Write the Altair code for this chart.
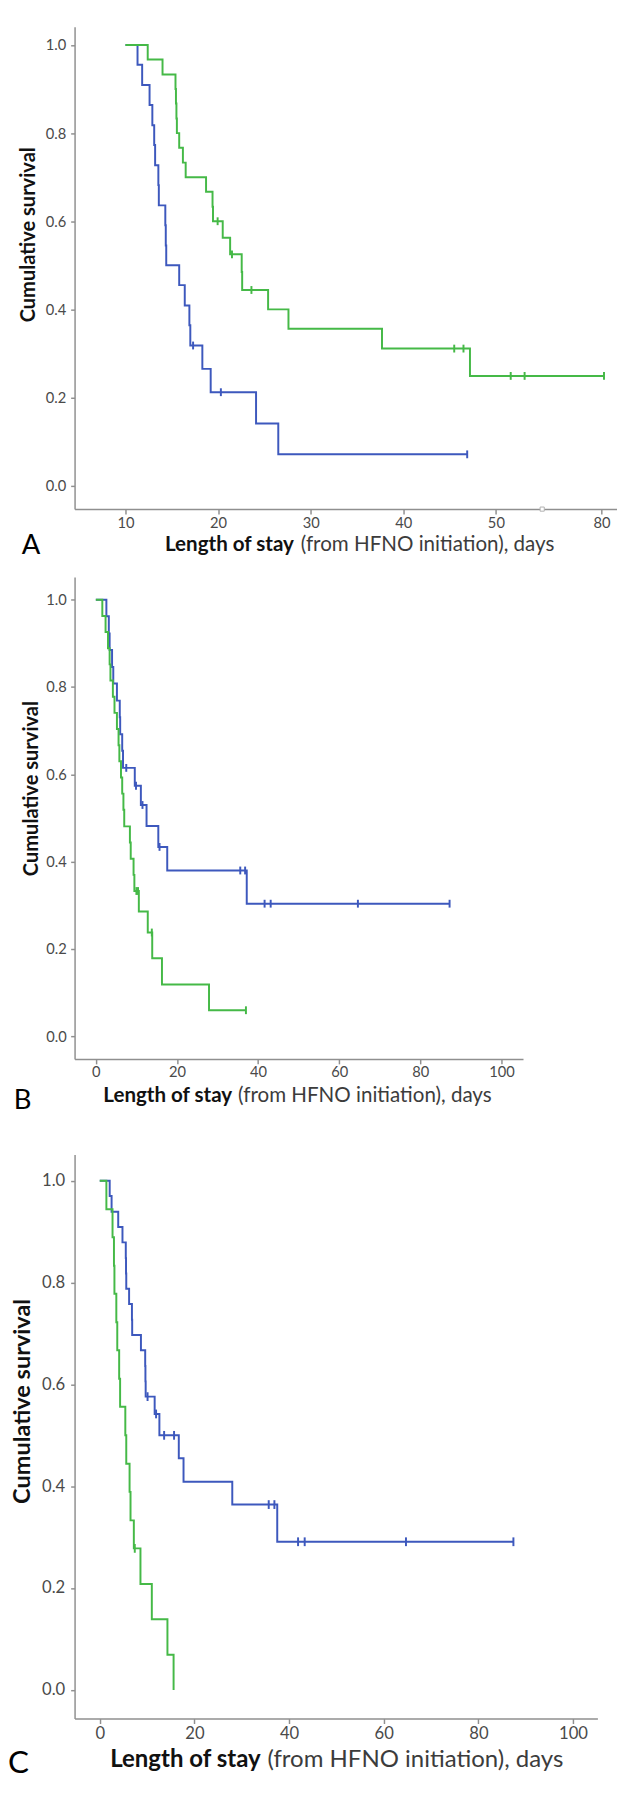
import altair as alt
import pandas as pd

FONT = "Lato"
BLUE = "#3d58bd"
GREEN = "#45b947"
AXIS_GREY = "#8f8f8f"
LABEL_GREY = "#4a4a4a"

# ---------------- Panel A ----------------
a_x_ticks = [10, 20, 30, 40, 50, 80]
a_blue_t = [10.0, 11.3, 11.8, 12.6, 12.9, 13.1, 13.2, 13.55, 13.6, 14.3, 14.35, 14.4,
            15.8, 16.4, 16.9, 17.0, 18.3, 19.2, 24.1, 26.5, 46.9]
a_blue_s = [1.0, 0.955, 0.909, 0.864, 0.818, 0.773, 0.727, 0.682, 0.636, 0.591, 0.545, 0.500,
            0.455, 0.409, 0.364, 0.318, 0.265, 0.212, 0.141, 0.071, 0.071]
a_blue_cens_t = [17.3, 20.3, 46.9]
a_blue_cens_s = [0.318, 0.212, 0.071]
a_green_t = [10.0, 12.4, 14.0, 15.4, 15.45, 15.5, 15.55, 15.8, 16.2, 16.5, 18.7, 19.4, 19.45,
             20.5, 21.3, 22.55, 22.6, 25.4, 27.6, 37.7, 47.2, 81.0]
a_green_s = [1.0, 0.967, 0.933, 0.900, 0.867, 0.833, 0.800, 0.767, 0.733, 0.700, 0.667, 0.633, 0.600,
             0.5625, 0.525, 0.485, 0.444, 0.400, 0.356, 0.311, 0.249, 0.249]
a_green_cens_t = [19.95, 21.5, 23.6, 45.5, 46.5, 51.6, 53.1, 81.0]
a_green_cens_s = [0.600, 0.525, 0.444, 0.311, 0.311, 0.249, 0.249, 0.249]
a_axis_break = [55]

# ---------------- Panel B ----------------
bc_x_ticks = [0, 20, 40, 60, 80, 100]
b_blue_t = [0, 2.6, 3.2, 3.4, 4.0, 4.3, 5.2, 5.9, 6.0, 6.5, 6.7, 9.6, 11.1, 12.5, 15.4, 17.6, 37.2, 87.2]
b_blue_s = [1.0, 0.962, 0.923, 0.885, 0.846, 0.808, 0.769, 0.731, 0.692, 0.654, 0.615, 0.574,
            0.530, 0.482, 0.434, 0.380, 0.304, 0.304]
b_blue_cens_t = [7.5, 9.9, 11.5, 15.7, 35.6, 36.8, 41.6, 43.1, 64.6, 87.2]
b_blue_cens_s = [0.615, 0.574, 0.530, 0.434, 0.380, 0.380, 0.304, 0.304, 0.304, 0.304]
b_green_t = [0, 1.6, 2.4, 3.0, 3.4, 3.6, 4.2, 4.6, 5.2, 5.6, 5.8, 6.2, 6.5, 6.8, 7.0, 8.4, 8.6,
             9.3, 9.5, 10.6, 12.8, 13.9, 16.3, 27.9, 37.0]
b_green_s = [1.0, 0.963, 0.926, 0.889, 0.852, 0.815, 0.778, 0.741, 0.704, 0.667, 0.630, 0.593,
             0.556, 0.519, 0.481, 0.444, 0.407, 0.370, 0.333, 0.286, 0.238, 0.179, 0.119, 0.060, 0.060]
b_green_cens_t = [10.0, 10.4, 13.8, 37.0]
b_green_cens_s = [0.333, 0.333, 0.238, 0.060]

# ---------------- Panel C ----------------
c_blue_t = [0, 2.1, 2.5, 3.9, 4.8, 5.5, 5.55, 5.6, 6.2, 6.8, 6.85, 8.7, 9.6, 9.65, 9.7, 11.6,
            12.6, 16.7, 17.7, 28.0, 37.5, 87.4]
c_blue_s = [1.0, 0.970, 0.939, 0.909, 0.879, 0.848, 0.818, 0.788, 0.758, 0.727, 0.697, 0.667,
            0.636, 0.606, 0.576, 0.542, 0.500, 0.455, 0.409, 0.364, 0.291, 0.291]
c_blue_cens_t = [10.1, 11.9, 13.6, 15.7, 35.7, 36.9, 41.9, 43.3, 64.7, 87.4]
c_blue_cens_s = [0.576, 0.542, 0.500, 0.500, 0.364, 0.364, 0.291, 0.291, 0.291, 0.291]
c_green_t = [0, 1.4, 2.7, 3.0, 3.1, 3.5, 3.7, 4.1, 4.3, 5.4, 5.6, 6.3, 6.5, 7.2, 8.6, 11.0, 14.3, 15.6]
c_green_s = [1.0, 0.944, 0.889, 0.833, 0.778, 0.722, 0.667, 0.611, 0.556, 0.500, 0.444, 0.389,
             0.333, 0.278, 0.208, 0.139, 0.069, 0.0]
c_green_cens_t = [7.4]
c_green_cens_s = [0.278]

y_ticks = [0.0, 0.2, 0.4, 0.6, 0.8, 1.0]
Y_TITLE = "Cumulative survival"
X_TITLE_BOLD = "Length of stay"
X_TITLE_REST = "(from HFNO initiation), days"

ONE = pd.DataFrame({"k": [0]})


def df(t, s):
    return pd.DataFrame({"t": t, "s": s})


def panel(p):
    xs_kw = dict(domain=p["xdom"], nice=False, zero=False)
    if "xrange" in p:
        xs_kw["range"] = p["xrange"]
    xs = alt.Scale(**xs_kw)
    ys = alt.Scale(domain=p["ydom"], nice=False, zero=False)
    xa = alt.Axis(values=p["xticks"], format="d", title=None, grid=False,
                  labelFontSize=p["tick_fs"], tickSize=5, labelPadding=p["xlabpad"],
                  labelFlush=False, labelOverlap=False)
    ya = alt.Axis(values=y_ticks, format=".1f", title=Y_TITLE, grid=False,
                  labelFontSize=p["tick_fs"], tickSize=4, labelPadding=p["ylabpad"],
                  titleFontSize=p["ytitle_fs"], titleFontWeight="bold", titleColor="#111111",
                  titleX=p["titleX"], titleY=p["titleY"], titleBaseline="alphabetic",
                  titleAngle=270, titleAlign="center")
    X = alt.X("t:Q", scale=xs, axis=xa)
    Y = alt.Y("s:Q", scale=ys, axis=ya)

    layers = []
    # invisible layout guide (fixes the panel's outer bounds)
    layers.append(alt.Chart(ONE).mark_rule(strokeOpacity=0, strokeWidth=1, color="white").encode(
        x=alt.value(p["guide_x"]), y=alt.value(0), y2=alt.value(p["guide_bottom"])))
    layers.append(alt.Chart(df(p["bt"], p["bs"])).mark_line(
        interpolate="step-after", color=BLUE, strokeWidth=2).encode(x=X, y=Y))
    layers.append(alt.Chart(df(p["gt"], p["gs"])).mark_line(
        interpolate="step-after", color=GREEN, strokeWidth=2).encode(x=X, y=Y))
    cens = dict(shape="M0,-1L0,1", filled=False, strokeWidth=2, size=p["cens_size"], opacity=1)
    layers.append(alt.Chart(df(p["bct"], p["bcs"])).mark_point(color=BLUE, **cens).encode(x=X, y=Y))
    layers.append(alt.Chart(df(p["gct"], p["gcs"])).mark_point(color=GREEN, **cens).encode(x=X, y=Y))
    if "breaks" in p:
        layers.append(alt.Chart(pd.DataFrame({"t": p["breaks"]})).mark_point(
            shape="square", filled=True, fill="white", stroke="#b0b0b0", strokeWidth=1,
            size=18, opacity=1).encode(x=X, y=alt.value(p["h"])))
    # x axis title: bold part + regular part
    layers.append(alt.Chart(ONE).mark_text(
        text=X_TITLE_BOLD, align="right", baseline="alphabetic", font=FONT,
        fontSize=p["xtitle_fs"], fontWeight="bold", color="#111111").encode(
        x=alt.value(p["split_r"]), y=alt.value(p["xtitle_base"])))
    layers.append(alt.Chart(ONE).mark_text(
        text=X_TITLE_REST, align="left", baseline="alphabetic", font=FONT,
        fontSize=p["xtitle_fs"], color="#3c3c3c").encode(
        x=alt.value(p["split_l"]), y=alt.value(p["xtitle_base"])))
    # panel letter
    layers.append(alt.Chart(ONE).mark_text(
        text=p["letter"], align="left", baseline="alphabetic", font=FONT,
        fontSize=p["letter_fs"], color="#000000").encode(
        x=alt.value(p["letter_x"]), y=alt.value(p["letter_base"])))
    return alt.layer(*layers).properties(width=p["w"], height=p["h"])


A = panel(dict(
    xdom=[4.502, 55, 86.47], xrange=[0, 477.6, 554], xticks=a_x_ticks, ydom=[-0.0533, 1.0415],
    w=554, h=492.7, tick_fs=15, xlabpad=2, ylabpad=5, ytitle_fs=20.5, titleX=-41, titleY=212,
    bt=a_blue_t, bs=a_blue_s, gt=a_green_t, gs=a_green_s,
    bct=a_blue_cens_t, bcs=a_blue_cens_s, gct=a_green_cens_t, gcs=a_green_cens_s,
    breaks=a_axis_break, cens_size=64,
    guide_x=-61, guide_bottom=562,
    xtitle_fs=21, split_r=224, split_l=231, xtitle_base=535.3,
    letter="A", letter_fs=28, letter_x=-54, letter_base=538.7,
))

B = panel(dict(
    xdom=[-5.24, 105.3], xticks=bc_x_ticks, ydom=[-0.0516, 1.0522],
    w=458, h=492.3, tick_fs=15, xlabpad=1, ylabpad=4.5, ytitle_fs=20.5, titleX=-37.5, titleY=215.6,
    bt=b_blue_t, bs=b_blue_s, gt=b_green_t, gs=b_green_s,
    bct=b_blue_cens_t, bcs=b_blue_cens_s, gct=b_green_cens_t, gcs=b_green_cens_s,
    cens_size=64,
    guide_x=-67, guide_bottom=590,
    xtitle_fs=21, split_r=161, split_l=167, xtitle_base=536.7,
    letter="B", letter_fs=28, letter_x=-62, letter_base=543,
))

C = panel(dict(
    xdom=[-5.32, 105.15], xticks=bc_x_ticks, ydom=[-0.0563, 1.0513],
    w=534, h=576, tick_fs=17, xlabpad=2, ylabpad=6, ytitle_fs=24, titleX=-46, titleY=251.5,
    bt=c_blue_t, bs=c_blue_s, gt=c_green_t, gs=c_green_s,
    bct=c_blue_cens_t, bcs=c_blue_cens_s, gct=c_green_cens_t, gcs=c_green_cens_s,
    cens_size=80,
    guide_x=-68, guide_bottom=10,
    xtitle_fs=24.5, split_r=190, split_l=197, xtitle_base=625,
    letter="C", letter_fs=32, letter_x=-68, letter_base=632,
))

chart = alt.concat(A, B, C, columns=1, spacing=0, align="none", bounds="full").properties(
    padding=0, background="white"
).configure_view(stroke=None).configure_axis(
    domainColor=AXIS_GREY, tickColor=AXIS_GREY, domainWidth=1.5, tickWidth=1.5,
    labelColor=LABEL_GREY, labelFont=FONT, titleFont=FONT,
)

chart.save("out.html", embed_options={"renderer": "svg", "actions": False})
